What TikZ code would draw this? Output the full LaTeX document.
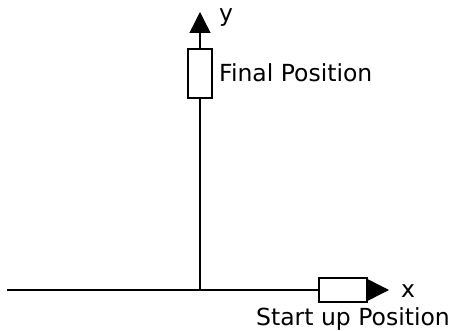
\documentclass[tikz,border=0pt]{standalone}
\usepackage{fontspec}
\setmainfont{DejaVu Sans}
\usetikzlibrary{arrows.meta}
\tikzset{
  axis/.style={line width=1.4pt, -{Triangle[length=21pt,width=21pt]}},
  slider/.style={draw, line width=1.4pt, fill=white, inner sep=0pt},
  lbl/.style={font=\fontsize{23.5}{26}\selectfont, inner sep=0pt}
}
\begin{document}
\begin{tikzpicture}[x=1pt,y=-1pt]
  \useasboundingbox (0,0) rectangle (452,331);
  % axes
  \coordinate (o) at (200,290);
  \coordinate (xl) at (7,290);
  \coordinate (xr) at (389,290);
  \coordinate (yt) at (200,12);
  \draw[line width=1.4pt] (xl) -- (o);
  \draw[axis] (o) -- (xr);
  \draw[axis] (o) -- (yt);
  % positions
  \node[slider, minimum width=48pt, minimum height=24pt] (start) at (343,290) {};
  \node[slider, minimum width=24pt, minimum height=49pt] (final) at (200,73.5) {};
  % labels
  \node[lbl, anchor=base west] (xlab) at (401,297) {x};
  \node[lbl, anchor=base west] (ylab) at (219,22) {y};
  \node[lbl, anchor=base west] (flab) at (219,82) {Final Position};
  \node[lbl, anchor=base east] (slab) at (450,325) {Start up Position};
\end{tikzpicture}
\end{document}
